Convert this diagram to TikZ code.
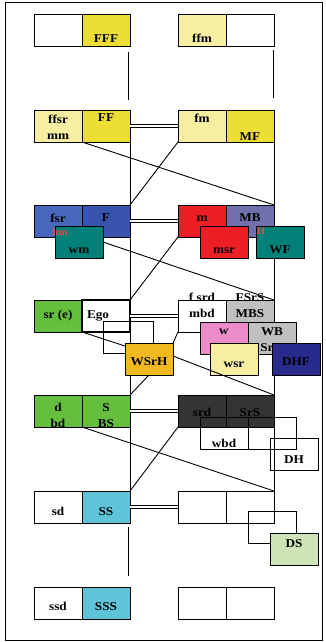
\documentclass[tikz,border=0pt]{standalone}
\usepackage{fontspec}
\setmainfont{Liberation Serif}[FakeStretch=1.1]
\usepackage{tikz}
\usepackage{xcolor}
\usetikzlibrary{positioning}

\definecolor{yel}{RGB}{236,222,52}
\definecolor{lyel}{RGB}{246,238,160}
\definecolor{fblue}{RGB}{72,104,190}
\definecolor{dblue}{RGB}{56,84,172}
\definecolor{teal}{RGB}{0,128,118}
\definecolor{kred}{RGB}{236,32,36}
\definecolor{mauve}{RGB}{112,112,172}
\definecolor{kgreen}{RGB}{102,190,62}
\definecolor{kgray}{RGB}{192,192,192}
\definecolor{pink}{RGB}{234,140,200}
\definecolor{navy}{RGB}{40,42,140}
\definecolor{orange}{RGB}{242,184,32}
\definecolor{dark}{RGB}{52,52,52}
\definecolor{cyan}{RGB}{96,196,216}
\definecolor{lgreen}{RGB}{206,228,182}
\definecolor{faint}{RGB}{232,72,72}

\begin{document}
\begin{tikzpicture}[
    x=1pt, y=-1pt,
    line width=0.9pt,
    cell/.style={rectangle, draw=black, minimum width=48pt, minimum height=32pt, inner sep=0pt, outer sep=0pt, align=center, font=\bfseries\fontsize{12}{16}\selectfont},
    frame/.style={cell, fill=none},
    bl/.style={text height=#1pt, text depth=32pt-#1pt},
    pair/.style={double, double distance=2.2pt, line width=0.8pt},
    hidden/.style={text=faint, font=\bfseries\fontsize{10}{12}\selectfont, inner sep=0pt}
]
\useasboundingbox (0,0) rectangle (326,642);
\draw (5,2) rectangle (322,640);

\node (r1a) [cell, anchor=north west] at (34,14) {};
\node (FFF) [cell, fill=yel, bl=29, right=0pt of r1a] {FFF};
\node (ffm) [cell, fill=lyel, bl=29, anchor=north west] at (178,14) {ffm};
\node (r1d) [cell, right=0pt of ffm] {};

\node (ffsr) [cell, fill=lyel, bl=29, anchor=north west] at (34,110) {ffsr\\mm};
\node (FF) [cell, fill=yel, bl=11, right=0pt of ffsr] {FF};
\node (fm) [cell, fill=lyel, bl=12, anchor=north west] at (178,110) {fm};
\node (MF) [cell, fill=yel, bl=30, right=0pt of fm] {MF};

\coordinate (r6top) at (274,491);
\draw (FF.south east) -- (130,491);
\draw (MF.south east) -- (r6top);
\draw [shorten <=6pt, shorten >=10pt] ([xshift=-2pt]FFF.south east) -- ([xshift=-2pt]FF.north east);
\draw [shorten <=4pt, shorten >=12pt] ([xshift=-1pt]r1d.south east) -- ([xshift=-1pt]MF.north east);
\draw [pair] (FF.east) -- (fm.west);

\node (fsr) [cell, fill=fblue, bl=17, anchor=north west] at (34,205) {fsr};
\node (F) [cell, fill=dblue, bl=16, right=0pt of fsr] {F};
\node (m) [cell, fill=kred, bl=16, anchor=north west] at (178,205) {m};
\node (MB) [cell, fill=mauve, bl=16, right=0pt of m] {MB};

\draw (ffsr.south east) -- (MB.north east);
\draw (fm.south west) -- (F.north east);
\draw [pair] (F.east) -- (m.west);

\node (wm) [cell, fill=teal, bl=27, anchor=north west] at (55,226) {wm};
\node (msr) [cell, fill=kred, bl=27, anchor=north west] at (200,226) {msr};
\node (WF) [cell, fill=teal, bl=27, anchor=north west] at (256,226) {WF};
\node (fsrx) [hidden] at (60,232) {hm};
\node (mbx) [hidden] at (261,231) {H};

\node (sre) [cell, fill=kgreen, bl=18, anchor=north west] at (34,300) {sr (e)};
\node (fsrd) [cell, fill=white, bl=17, anchor=north west] at (178,300) {f srd\\mbd};
\node (FSrS) [cell, fill=kgray, bl=17, right=0pt of fsrd] {FSrS\\MBS};

\draw (wm.east) -- (FSrS.north east);
\draw (m.south west) -- (130,300);

\node (Ego) [cell, fill=white, bl=18, line width=2.4pt, text width=38pt, align=left, right=0pt of sre] {Ego};
\draw [pair] (Ego.east) -- (fsrd.west);

\node (w) [cell, fill=pink, bl=12, anchor=north west] at (200,322) {w};
\node (WB) [cell, fill=kgray, bl=29, right=0pt of w] {WB\\SrH};
\node (wsr) [cell, fill=lyel, bl=24, anchor=north west] at (210,343) {wsr};
\node (DHF) [cell, fill=navy, bl=22, anchor=north west] at (272,343) {DHF};

\node (ewf) [frame, minimum width=50pt, anchor=north west] at (103,321) {};
\node (WSrH) [cell, fill=orange, bl=22, anchor=north west] at (125,343) {WSrH};

\draw (Ego.south west) -- ([yshift=-3pt]WSrH.north west);
\draw (fsrd.south west) -- (WSrH.north east);

\node (d) [cell, fill=kgreen, bl=32, anchor=north west] at (34,395) {d\\bd};
\node (S) [cell, fill=kgreen, bl=32, right=0pt of d] {S\\BS};
\node (srd) [cell, fill=dark, bl=21, anchor=north west] at (178,395) {srd};
\node (SrS) [cell, fill=dark, bl=21, right=0pt of srd] {SrS};

\draw ([yshift=3pt]WSrH.east) -- (SrS.north east);
\draw (WSrH.south) -- (S.north east);
\draw [pair] (S.east) -- (srd.west);

\node (wbd) [frame, bl=30, anchor=north west] at (200,417) {wbd};
\node (wbd2) [frame, right=0pt of wbd] {};
\node (DH) [frame, bl=25, anchor=north west] at (270,438) {DH};

\node (sd) [cell, fill=white, bl=24, anchor=north west] at (34,491) {sd};
\node (SS) [cell, fill=cyan, bl=24, right=0pt of sd] {SS};
\node (r6a) [cell, fill=white, anchor=north west] at (178,491) {};
\node (r6b) [cell, fill=white, right=0pt of r6a] {};

\draw (d.south east) -- (r6b.north east);
\draw (srd.south west) -- (SS.north east);
\draw [pair] (SS.east) -- (r6a.west);

\node (r6f) [frame, anchor=north west] at (248,511) {};
\node (DS) [cell, fill=lgreen, bl=14, anchor=north west] at (270,533) {DS};

\node (ssd) [cell, fill=white, bl=23, anchor=north west] at (34,587) {ssd};
\node (SSS) [cell, fill=cyan, bl=23, right=0pt of ssd] {SSS};
\node (r7a) [cell, anchor=north west] at (178,587) {};
\node (r7b) [cell, right=0pt of r7a] {};

\draw [shorten <=4pt, shorten >=11pt] ([xshift=-2pt]SS.south east) -- ([xshift=-2pt]SSS.north east);

\end{tikzpicture}
\end{document}
